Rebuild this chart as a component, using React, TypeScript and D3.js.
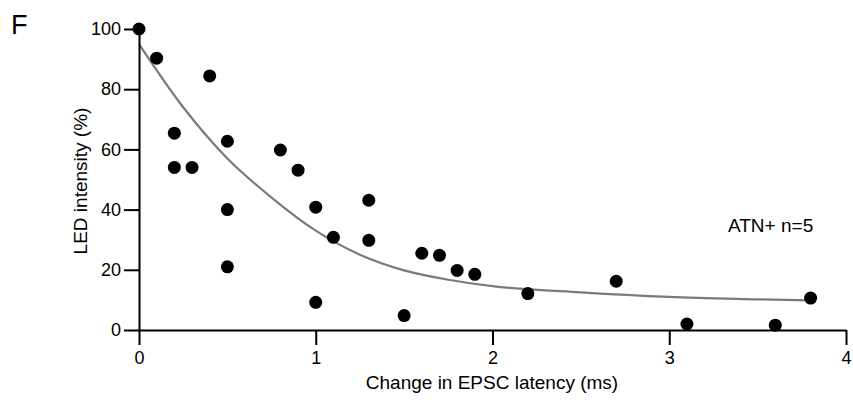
import React, { useRef, useEffect } from 'react'
import * as d3 from 'd3'

// points
const latency = [0, 0.1, 0.4, 0.2, 0.2, 0.3, 0.5, 0.5, 0.5, 0.8, 0.9, 1.0, 1.0, 1.1, 1.3, 1.3, 1.5, 1.6, 1.7, 1.8, 1.9, 2.2, 2.7, 3.1, 3.6, 3.8]
const intensity = [100, 90.3, 84.4, 65.4, 54, 54, 62.7, 40, 21, 59.8, 53.1, 40.8, 9.2, 30.8, 43.1, 29.8, 4.8, 25.5, 24.8, 19.8, 18.5, 12.1, 16.2, 2.0, 1.6, 10.6]

// fitted decay curve, sampled off the figure
const fitX = [0, 0.25, 0.5, 0.75, 1, 1.25, 1.5, 1.75, 2, 2.5, 3, 3.5, 3.8]
const fitY = [95, 74, 57, 44, 33, 25, 19.8, 16.7, 14.6, 12.5, 11, 10.2, 9.8]

const xTicks = [0, 1, 2, 3, 4]
const yTicks = [0, 20, 40, 60, 80, 100]

const W = 853
const H = 404
const FONT = '"Liberation Sans", Arial, sans-serif'

export default function App() {
  const svgRef = useRef<SVGSVGElement>(null)

  useEffect(() => {
    const svg = d3.select(svgRef.current)
    svg.selectAll('*').remove()

    const x = d3.scaleLinear().domain([0, 4]).range([139, 846])
    const y = d3.scaleLinear().domain([0, 100]).range([330, 29])

    // curve
    const fitLine = d3.line<number>()
      .x((d, i) => x(fitX[i]))
      .y(d => y(d))
      .curve(d3.curveMonotoneX)

    svg.append('path')
      .datum(fitY)
      .attr('d', fitLine)
      .attr('fill', 'none')
      .attr('stroke', '#7a7a7a')
      .attr('stroke-width', 2.2)

    // axes
    const xAxis = d3.axisBottom(x).tickValues(xTicks).tickFormat(d3.format('d'))
      .tickSize(15).tickSizeOuter(0).tickPadding(6)
    const gx = svg.append('g').attr('transform', `translate(0,${y(0)})`).call(xAxis)
    const yAxis = d3.axisLeft(y).tickValues(yTicks).tickFormat(d3.format('d'))
      .tickSize(15).tickSizeOuter(0).tickPadding(3)
    const gy = svg.append('g').attr('transform', `translate(${x(0)},0)`).call(yAxis)

    ;[gx, gy].forEach(g => {
      g.selectAll('path, line').attr('stroke', '#000').attr('stroke-width', 2)
      g.selectAll('text').attr('fill', '#000').style('font-family', FONT).style('font-size', '18px')
    })

    // points
    svg.append('g')
      .selectAll('circle')
      .data(latency)
      .join('circle')
      .attr('cx', d => x(d))
      .attr('cy', (d, i) => y(intensity[i]))
      .attr('r', 6.5)
      .attr('fill', '#000')

    // labels
    svg.append('text')
      .attr('x', 492)
      .attr('y', 389)
      .attr('text-anchor', 'middle')
      .style('font-family', FONT)
      .style('font-size', '19px')
      .text('Change in EPSC latency (ms)')

    svg.append('text')
      .attr('transform', 'translate(87,181) rotate(-90)')
      .attr('text-anchor', 'middle')
      .style('font-family', FONT)
      .style('font-size', '19px')
      .text('LED intensity (%)')

    svg.append('text')
      .attr('x', 728)
      .attr('y', 232)
      .style('font-family', FONT)
      .style('font-size', '19px')
      .text('ATN+ n=5')

    svg.append('text')
      .attr('x', 11)
      .attr('y', 34)
      .style('font-family', FONT)
      .style('font-size', '27px')
      .text('F')
  }, [])

  return (
    <svg
      ref={svgRef}
      width={W}
      height={H}
      style={{ position: 'absolute', left: 0, top: 0, background: '#fff' }}
    />
  )
}
